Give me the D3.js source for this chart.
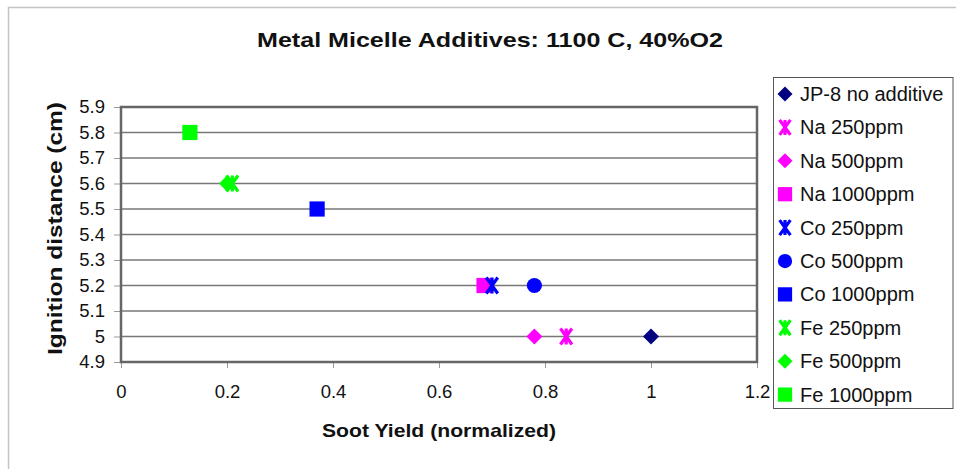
<!DOCTYPE html>
<html>
<head>
<meta charset="utf-8">
<script src="https://cdn.jsdelivr.net/npm/d3@7"></script>
<style>
  html, body { margin: 0; padding: 0; background: #fff; }
  svg { display: block; font-family: "Liberation Sans", Arial, sans-serif; }
</style>
</head>
<body>
<svg id="chart" width="956" height="469"></svg>
<script>
// Series: name, colour, marker shape, and the single (soot yield, ignition distance) point
const seriesNames  = ["JP-8 no additive", "Na 250ppm", "Na 500ppm", "Na 1000ppm",
                      "Co 250ppm", "Co 500ppm", "Co 1000ppm",
                      "Fe 250ppm", "Fe 500ppm", "Fe 1000ppm"];
const seriesColors = ["#000080", "#ff00ff", "#ff00ff", "#ff00ff",
                      "#0000ff", "#0000ff", "#0000ff",
                      "#00ff00", "#00ff00", "#00ff00"];
const seriesShapes = ["diamond", "star", "diamond", "square",
                      "star", "circle", "square",
                      "star", "diamond", "square"];
const sootYield    = [1.00, 0.84, 0.78, 0.685, 0.70, 0.78, 0.37, 0.21, 0.20, 0.13];
const ignitionDist = [5.0, 5.0, 5.0, 5.2, 5.2, 5.2, 5.5, 5.6, 5.6, 5.8];

const xTicks = [0, 0.2, 0.4, 0.6, 0.8, 1, 1.2];
const yTicks = [4.9, 5.0, 5.1, 5.2, 5.3, 5.4, 5.5, 5.6, 5.7, 5.8, 5.9];

const svg = d3.select("#chart");
const plot = { left: 121, right: 757, top: 107, bottom: 362 };

const x = d3.scaleLinear().domain([0, 1.2]).range([plot.left, plot.right]);
const y = d3.scaleLinear().domain([4.9, 5.9]).range([plot.bottom, plot.top]);

const fmt = d => d3.format("")(+d.toFixed(1));

// outer chart frame (runs past the right and bottom edges)
svg.append("rect")
  .attr("x", 8.5).attr("y", 7.5).attr("width", 960).attr("height", 470)
  .attr("fill", "none").attr("stroke", "#c4c4c4").attr("stroke-width", 1.5);

// title
svg.append("text")
  .attr("x", 490).attr("y", 47)
  .attr("text-anchor", "middle")
  .attr("font-size", 21).attr("font-weight", "bold").attr("fill", "#111")
  .attr("textLength", 466).attr("lengthAdjust", "spacingAndGlyphs")
  .text("Metal Micelle Additives: 1100 C, 40%O2");

// horizontal gridlines
svg.append("g")
  .selectAll("line")
  .data(yTicks.slice(1, -1))
  .join("line")
  .attr("x1", plot.left).attr("x2", plot.right)
  .attr("y1", d => y(d)).attr("y2", d => y(d))
  .attr("stroke", "#777").attr("stroke-width", 1.3);

// y axis
const gy = svg.append("g").attr("transform", `translate(${plot.left},0)`)
  .call(d3.axisLeft(y).tickValues(yTicks).tickSize(7).tickPadding(9).tickFormat(fmt));
gy.select(".domain").remove();
gy.selectAll(".tick line").attr("stroke", "#999");
gy.selectAll(".tick text").attr("font-size", 18.5).attr("fill", "#111")
  .attr("font-family", "Liberation Sans, Arial, sans-serif");

// x axis
const gx = svg.append("g").attr("transform", `translate(0,${plot.bottom})`)
  .call(d3.axisBottom(x).tickValues(xTicks).tickSize(6).tickPadding(17).tickFormat(fmt));
gx.select(".domain").remove();
gx.selectAll(".tick line").attr("stroke", "#999");
gx.selectAll(".tick text").attr("font-size", 18.5).attr("fill", "#111")
  .attr("font-family", "Liberation Sans, Arial, sans-serif");

// plot area border
svg.append("rect")
  .attr("x", plot.left).attr("y", plot.top)
  .attr("width", plot.right - plot.left).attr("height", plot.bottom - plot.top)
  .attr("fill", "none").attr("stroke", "#666").attr("stroke-width", 2.5);

// axis titles
svg.append("text")
  .attr("x", (plot.left + plot.right) / 2).attr("y", 437)
  .attr("text-anchor", "middle")
  .attr("font-size", 18.5).attr("font-weight", "bold").attr("fill", "#111")
  .attr("textLength", 234).attr("lengthAdjust", "spacingAndGlyphs")
  .text("Soot Yield (normalized)");
svg.append("text")
  .attr("transform", `translate(62,228.5) rotate(-90)`)
  .attr("text-anchor", "middle")
  .attr("font-size", 20).attr("font-weight", "bold").attr("fill", "#111")
  .attr("textLength", 253).attr("lengthAdjust", "spacingAndGlyphs")
  .text("Ignition distance (cm)");

// marker drawing
function drawMarker(g, shape, color, s) {
  const h = s / 2;
  if (shape === "diamond") {
    g.append("path").attr("d", `M0,${-h}L${h},0L0,${h}L${-h},0Z`).attr("fill", color);
  } else if (shape === "square") {
    const q = h * 0.95;
    g.append("rect").attr("x", -q).attr("y", -q).attr("width", 2 * q).attr("height", 2 * q).attr("fill", color);
  } else if (shape === "circle") {
    g.append("circle").attr("r", h * 0.95).attr("fill", color);
  } else if (shape === "star") {
    const q = h * 0.72;
    g.append("path")
      .attr("d", `M${-q},${-h}L${q},${h}M${q},${-h}L${-q},${h}M0,${-h}L0,${h}`)
      .attr("stroke", color).attr("stroke-width", 3.2).attr("fill", "none");
  }
}

const points = seriesNames.map((name, i) => ({
  name, color: seriesColors[i], shape: seriesShapes[i], sx: sootYield[i], sy: ignitionDist[i]
}));

svg.append("g")
  .selectAll("g")
  .data(points)
  .join("g")
  .attr("transform", d => `translate(${x(d.sx)},${y(d.sy)})`)
  .each(function (d) { drawMarker(d3.select(this), d.shape, d.color, 16); });

// legend
const legend = svg.append("g");
legend.append("rect")
  .attr("x", 773.5).attr("y", 77.5).attr("width", 179.5).attr("height", 331)
  .attr("fill", "#fff").attr("stroke", "#555").attr("stroke-width", 1);
const rows = legend.selectAll("g.row")
  .data(points)
  .join("g")
  .attr("class", "row")
  .attr("transform", (d, i) => `translate(785,${94 + i * 33.4})`);
rows.each(function (d) { drawMarker(d3.select(this), d.shape, d.color, 15); });
rows.append("text")
  .attr("x", 15).attr("y", 7)
  .attr("font-size", 20).attr("fill", "#111")
  .text(d => d.name);
</script>
</body>
</html>
